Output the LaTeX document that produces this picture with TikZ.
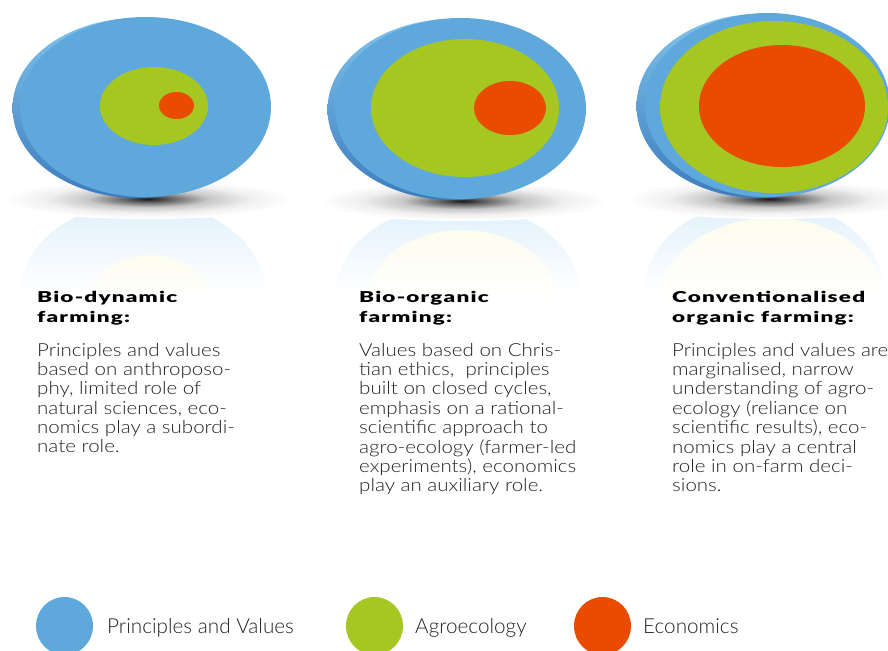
\documentclass[tikz,border=0pt]{standalone}
\usepackage{fontspec}
\setmainfont{Lato}
\newfontfamily\bodyf{Lato Light}[FakeStretch=1.14]
\newfontfamily\legf{Lato Light}
\newfontfamily\headf{Lato Black}[FakeStretch=1.5,LetterSpace=8]
\definecolor{pvblue}{RGB}{95,168,219}
\definecolor{rimlight}{RGB}{128,196,236}
\definecolor{rimdark}{RGB}{60,124,190}
\definecolor{agreen}{RGB}{166,198,34}
\definecolor{eorange}{RGB}{233,76,0}
\definecolor{reflblue}{RGB}{224,240,251}
\definecolor{reflyel}{RGB}{252,252,238}
\definecolor{txt}{RGB}{35,35,35}
\pgfdeclareradialshading{discshadow}{\pgfpoint{0bp}{0bp}}{color(0bp)=(black!90); color(4bp)=(black!60); color(10bp)=(black!22); color(17bp)=(black!6); color(24bp)=(white); color(50bp)=(white)}
\tikzset{
  rim/.style={top color=rimlight, bottom color=rimdark},
  face/.style={fill=pvblue},
  agro/.style={fill=agreen},
  econ/.style={fill=eorange},
  refl/.style={top color=reflblue, bottom color=white, middle color=white},
  reflg/.style={top color=reflyel, bottom color=white, middle color=white},
  shadowst/.style={shading=discshadow},
  head/.style={anchor=base west, inner sep=0pt, font=\headf\fontsize{15}{17}\selectfont, text=black},
  body/.style={anchor=base west, inner sep=0pt, font=\bodyf\fontsize{18}{19}\selectfont, text=txt},
  legtext/.style={anchor=base west, inner sep=0pt, font=\legf\fontsize{20.7}{24}\selectfont, text=txt},
}
\begin{document}
\begin{tikzpicture}[x=1pt,y=1pt]
\useasboundingbox[fill=white] (0,0) rectangle (888,-650);
% ---------- reflections ----------
\begin{scope}
\clip (0,-198) rectangle (888,-300);
\shade[refl] (143,-292) ellipse (122 and 90);
\shade[reflg] (150,-300) ellipse (60 and 45);
\shade[refl] (458,-294) ellipse (122 and 90);
\shade[reflg] (462,-300) ellipse (95 and 70);
\shade[refl] (764,-292) ellipse (120 and 92);
\shade[reflg] (772,-300) ellipse (112 and 82);
\end{scope}
% ---------- shadows ----------
\shade[shadowst] (148,-199) ellipse (150 and 20);
\shade[shadowst] (463,-201) ellipse (150 and 20);
\shade[shadowst] (770,-199) ellipse (150 and 20);
% ---------- disc 1 ----------
\shade[rim] (138,-108) ellipse (125.5 and 90);
\fill[face] (145.5,-107) ellipse (125.5 and 90);
\fill[agro] (154,-106) ellipse (54 and 39);
\fill[econ] (176.5,-105.5) ellipse (17.5 and 13.5);
% ---------- disc 2 ----------
\shade[rim] (453,-109.5) ellipse (125.5 and 90.5);
\fill[face] (460.5,-108.5) ellipse (125.5 and 90.5);
\fill[agro] (465,-108) ellipse (94 and 69);
\fill[econ] (510,-108) ellipse (36 and 27);
% ---------- disc 3 ----------
\shade[rim] (759,-106) ellipse (122.5 and 92);
\fill[face] (767.5,-105) ellipse (122.5 and 92);
\fill[agro] (774,-107) ellipse (114 and 86);
\fill[econ] (782,-106) ellipse (83 and 61);
% ---------- column 1 ----------
\node[head] (h1a) at (37,-302.7) {Bio-dynamic};
\node[head] (h1b) at (37,-322.7) {farming:};
\foreach \t [count=\i] in {Principles and values, based on anthroposo-, {phy, limited role of}, {natural sciences, eco-}, nomics play a subordi-, nate role.}
  \node[body] (b1-\i) at (37,{-356-19.35*(\i-1)}) {\t};
% ---------- column 2 ----------
\node[head] (h2a) at (359,-302.7) {Bio-organic};
\node[head] (h2b) at (359,-322.7) {farming:};
\foreach \t [count=\i] in {Values based on Chris-, {tian ethics,\ \ principles}, {built on closed cycles,}, emphasis on a rational-, scientific approach to, agro-ecology (farmer-led, {experiments), economics}, play an auxiliary role.}
  \node[body] (b2-\i) at (359,{-356-19.4*(\i-1)}) {\t};
% ---------- column 3 ----------
\node[head] (h3a) at (672,-302.7) {Conventionalised};
\node[head] (h3b) at (672,-322.7) {organic farming:};
\foreach \t [count=\i] in {Principles and values are, {marginalised, narrow}, understanding of agro-, ecology (reliance on, {scientific results), eco-}, nomics play a central, role in on-farm deci-, sions.}
  \node[body] (b3-\i) at (672,{-356-19.4*(\i-1)}) {\t};
% ---------- legend ----------
\fill[face] (64.5,-626) ellipse (28.5 and 29);
\node[legtext] (t1) at (107,-633) {Principles and Values};
\fill[agro] (374.5,-626) ellipse (28.5 and 29);
\node[legtext] (t2) at (415,-633) {Agroecology};
\fill[econ] (602.5,-626) ellipse (28.5 and 29);
\node[legtext] (t3) at (643,-633) {Economics};
\end{tikzpicture}
\end{document}
